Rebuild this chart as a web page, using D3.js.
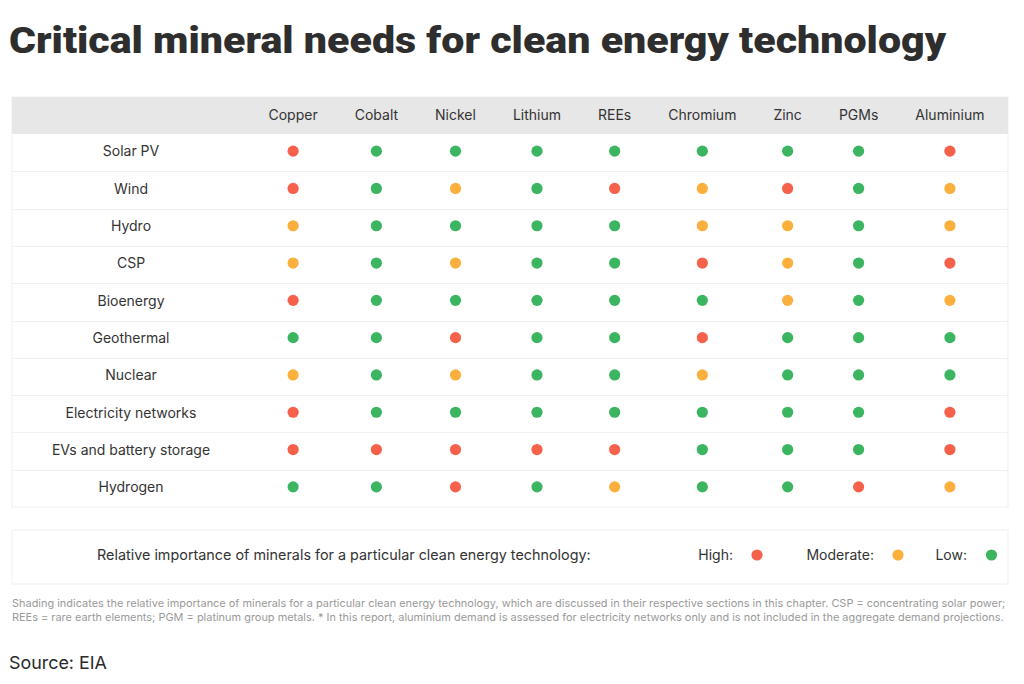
<!DOCTYPE html>
<html>
<head>
<meta charset="utf-8">
<script src="https://cdn.jsdelivr.net/npm/d3@7/dist/d3.min.js"></script>
<style>
  html, body { margin: 0; padding: 0; background: #fff; }
  svg { display: block; }
</style>
</head>
<body>
<svg id="chart" width="1024" height="684"></svg>
<script>
// ---------------- DATA ----------------
const title = "Critical mineral needs for clean energy technology";
const minerals = ["Copper", "Cobalt", "Nickel", "Lithium", "REEs", "Chromium", "Zinc", "PGMs", "Aluminium"];
const technologies = ["Solar PV", "Wind", "Hydro", "CSP", "Bioenergy", "Geothermal", "Nuclear",
  "Electricity networks", "EVs and battery storage", "Hydrogen"];
// importance levels per technology row, one entry per mineral (H = high, M = moderate, L = low)
const solarPV     = ["H","L","L","L","L","L","L","L","H"];
const wind        = ["H","L","M","L","H","M","H","L","M"];
const hydro       = ["M","L","L","L","L","M","M","L","M"];
const csp         = ["M","L","M","L","L","H","M","L","H"];
const bioenergy   = ["H","L","L","L","L","L","M","L","M"];
const geothermal  = ["L","L","H","L","L","H","L","L","L"];
const nuclear     = ["M","L","M","L","L","M","L","L","L"];
const electricity = ["H","L","L","L","L","L","L","L","H"];
const evsBattery  = ["H","H","H","H","H","L","L","L","H"];
const hydrogen    = ["L","L","H","L","M","L","L","H","M"];
const levelRows = [solarPV, wind, hydro, csp, bioenergy, geothermal, nuclear, electricity, evsBattery, hydrogen];
const levelKeys = ["H", "M", "L"];
const levelLabels = ["High:", "Moderate:", "Low:"];
const legendTitle = "Relative importance of minerals for a particular clean energy technology:";
const noteLines = [
  "Shading indicates the relative importance of minerals for a particular clean energy technology, which are discussed in their respective sections in this chapter. CSP = concentrating solar power;",
  "REEs = rare earth elements; PGM = platinum group metals. * In this report, aluminium demand is assessed for electricity networks only and is not included in the aggregate demand projections."
];
const sourceText = "Source: EIA";

// ---------------- SETUP ----------------
const svg = d3.select("#chart");
const bodyFont = "Inter, 'Open Sans', 'DejaVu Sans', sans-serif";
const textColor = "#333333";
const color = d3.scaleOrdinal().domain(levelKeys).range(["#f5614a", "#fbb03e", "#3bb55f"]);

function fitFont(sel, target, start) {
  let fs = start;
  sel.attr("font-size", fs);
  const w = sel.node().getComputedTextLength();
  fs = fs * target / w;
  sel.attr("font-size", fs);
  return fs;
}

// Title (glyphs stretched to the reference's wide heavy face)
svg.append("text")
  .attr("x", 9).attr("y", 53)
  .attr("font-family", "Roboto, 'Open Sans', sans-serif")
  .attr("font-weight", 900)
  .attr("font-size", 36)
  .attr("fill", "#2e2e2e")
  .attr("textLength", 937)
  .attr("lengthAdjust", "spacingAndGlyphs")
  .text(title);

// Table geometry
const tableLeft = 12, tableRight = 1008, headTop = 97, headBottom = 134, tableBottom = 507;
const dataStart = 250, dataEnd = 1003;

// Measure header label widths to build auto-layout columns
const measure = svg.append("g").attr("font-family", bodyFont).attr("font-size", 14);
const widths = minerals.map(m => {
  const t = measure.append("text").text(m);
  const w = t.node().getComputedTextLength();
  t.remove();
  return w;
});
measure.remove();
const pad = ((dataEnd - dataStart) - d3.sum(widths)) / minerals.length;
let acc = dataStart;
const centers = widths.map(w => { const c = acc + (w + pad) / 2; acc += w + pad; return c; });
const x = d3.scaleOrdinal().domain(minerals).range(centers);
const y = d3.scaleBand().domain(technologies).range([headBottom, tableBottom]);
const labelX = (tableLeft + dataStart) / 2;
const rowMid = d => y(d) + y.bandwidth() / 2 - 1.5;

// Table background and border
svg.append("rect")
  .attr("x", tableLeft).attr("y", headTop)
  .attr("width", tableRight - tableLeft).attr("height", tableBottom - headTop)
  .attr("fill", "#fff").attr("stroke", "#efefef").attr("stroke-width", 1);

svg.append("rect")
  .attr("x", tableLeft).attr("y", headTop)
  .attr("width", tableRight - tableLeft).attr("height", headBottom - headTop)
  .attr("fill", "#e7e7e7");

// Row separators
svg.append("g").selectAll("line")
  .data(technologies.slice(1))
  .join("line")
  .attr("x1", tableLeft).attr("x2", tableRight)
  .attr("y1", d => Math.round(y(d)) + 0.5).attr("y2", d => Math.round(y(d)) + 0.5)
  .attr("stroke", "#f1f1f1").attr("stroke-width", 1);

// Header labels
svg.append("g").selectAll("text")
  .data(minerals)
  .join("text")
  .attr("x", d => x(d))
  .attr("y", (headTop + headBottom) / 2 + 1)
  .attr("text-anchor", "middle")
  .attr("dominant-baseline", "middle")
  .attr("font-family", bodyFont).attr("font-size", 14)
  .attr("fill", textColor)
  .text(d => d);

// Row labels
svg.append("g").selectAll("text")
  .data(technologies)
  .join("text")
  .attr("x", labelX)
  .attr("y", d => rowMid(d) + 1.5)
  .attr("text-anchor", "middle")
  .attr("dominant-baseline", "middle")
  .attr("font-family", bodyFont).attr("font-size", 14)
  .attr("fill", textColor)
  .text(d => d);

// Dots
const cells = [];
technologies.forEach((t, i) => minerals.forEach((m, j) => cells.push({ t, m, v: levelRows[i][j] })));
svg.append("g").selectAll("circle")
  .data(cells)
  .join("circle")
  .attr("cx", d => x(d.m))
  .attr("cy", d => rowMid(d.t))
  .attr("r", 5.6)
  .attr("fill", d => color(d.v));

// Legend box
const legTop = 530, legBottom = 584, legY = 556;
svg.append("rect")
  .attr("x", tableLeft).attr("y", legTop)
  .attr("width", tableRight - tableLeft).attr("height", legBottom - legTop)
  .attr("fill", "#fff").attr("stroke", "#efefef");

const legTitle = svg.append("text")
  .attr("x", 97).attr("y", legY)
  .attr("dominant-baseline", "middle")
  .attr("font-family", bodyFont)
  .attr("fill", textColor)
  .text(legendTitle);
fitFont(legTitle, 494, 14);

const legendLabelRight = [733, 874, 967];
const legendDotX = [757, 898, 991.5];
const leg = svg.append("g");
leg.selectAll("text")
  .data(levelKeys)
  .join("text")
  .attr("x", (d, i) => legendLabelRight[i])
  .attr("y", legY)
  .attr("text-anchor", "end")
  .attr("dominant-baseline", "middle")
  .attr("font-family", bodyFont).attr("font-size", 14)
  .attr("fill", textColor)
  .text((d, i) => levelLabels[i]);
leg.selectAll("circle")
  .data(levelKeys)
  .join("circle")
  .attr("cx", (d, i) => legendDotX[i])
  .attr("cy", legY - 1)
  .attr("r", 5.6)
  .attr("fill", d => color(d));

// Footnote
const note = svg.append("g")
  .attr("font-family", bodyFont)
  .attr("fill", "#9a9a9a");
const n1 = note.append("text").attr("x", 12).attr("y", 607).text(noteLines[0]);
const fs = fitFont(n1, 994, 10.5);
note.append("text").attr("x", 12).attr("y", 620.5).attr("font-size", fs).text(noteLines[1]);

// Source
const src = svg.append("text")
  .attr("x", 9).attr("y", 669)
  .attr("font-family", bodyFont)
  .attr("fill", "#2a2a2a")
  .text(sourceText);
fitFont(src, 98, 18);
</script>
</body>
</html>
